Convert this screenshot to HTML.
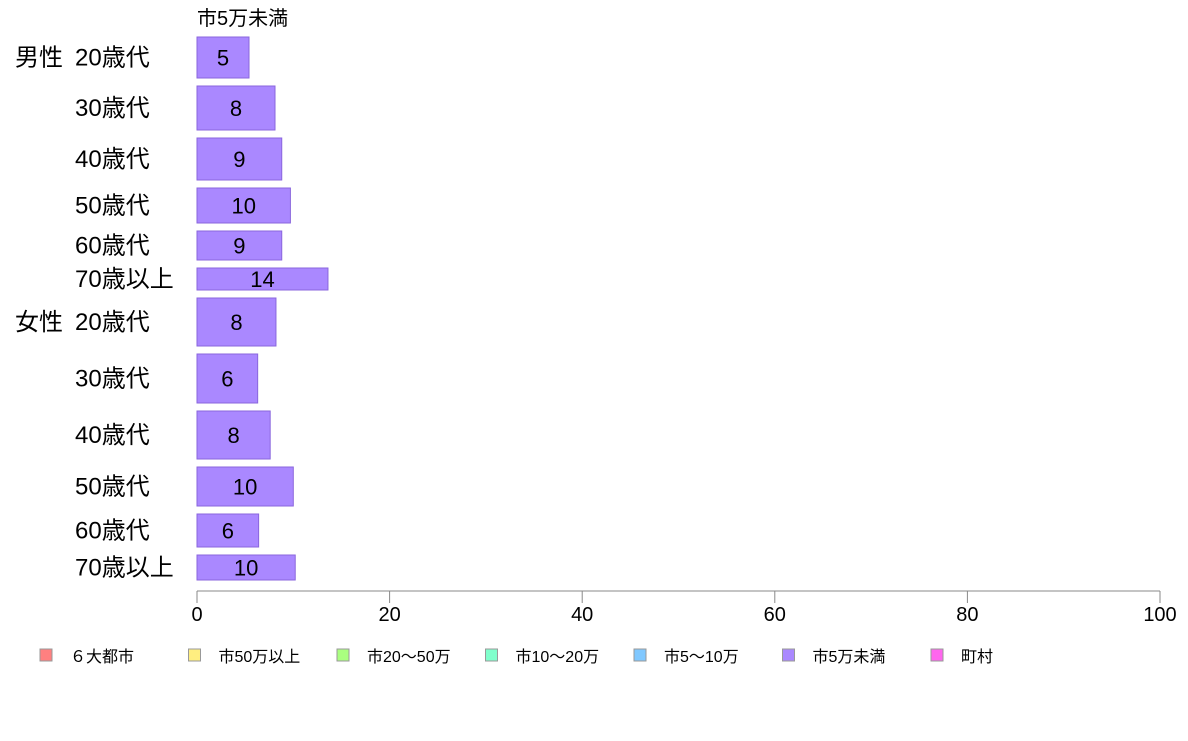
<!DOCTYPE html>
<html><head><meta charset="utf-8"><style>
body{margin:0;background:#fff;font-family:"Liberation Sans","Noto Sans CJK JP",sans-serif;}
svg text{font-family:"Liberation Sans","Noto Sans CJK JP",sans-serif;}
</style></head><body>
<svg id="chart" width="1188" height="736"></svg>
<script>
const groups=["男性","","","","","","女性","","","","",""];
const ages=["20歳代","30歳代","40歳代","50歳代","60歳代","70歳以上","20歳代","30歳代","40歳代","50歳代","60歳代","70歳以上"];
const values=[5.4,8.1,8.8,9.7,8.8,13.6,8.2,6.3,7.6,10.0,6.4,10.2];
const labels=["5","8","9","10","9","14","8","6","8","10","6","10"];
const weights=[41,44,42,35,29,22,48,49,48,39,33,25];
const ticks=[0,20,40,60,80,100];
const legendNames=["６大都市","市50万以上","市20〜50万","市10〜20万","市5〜10万","市5万未満","町村"];
const legendColors=["#ff8080","#ffee80","#aaff80","#80ffcc","#80c8ff","#aa88ff","#ff66ee"];
const NS="http://www.w3.org/2000/svg";
const svg=document.getElementById('chart');
const x0=197,x1=1160,yTop=37,yBot=580;
const xs=v=>x0+(x1-x0)*v/100;
function mk(t,a,txt){const e=document.createElementNS(NS,t);for(const k in a)e.setAttribute(k,a[k]);if(txt!=null)e.textContent=txt;svg.appendChild(e);return e;}
const gap=8;
const totalW=weights.reduce((a,b)=>a+b,0);
const avail=yBot-yTop-gap*(weights.length-1);
let y=yTop;
const title=mk('text',{x:197,y:25,'font-size':20,fill:'#000'},'市5万未満');


values.forEach((v,i)=>{
  const h=avail*weights[i]/totalW;
  const r=mk('rect',{x:x0,y:y,width:xs(v)-x0,height:h,fill:'#aa88ff',stroke:'#8a66dd','stroke-width':1});
  
  
  const cy=y+h/2+8;
  const vl=mk('text',{x:(x0+xs(v))/2,y:cy,'font-size':22,'text-anchor':'middle',fill:'#000'},labels[i]);
  
  
  const al=mk('text',{x:75,y:cy,'font-size':24,fill:'#000'},ages[i]);
  
  
  if(groups[i]){
    const gl=mk('text',{x:15,y:cy,'font-size':24,fill:'#000'},groups[i]);
    
    
  }
  y+=h+gap;
});
const ax=mk('line',{x1:x0,x2:x1,y1:591,y2:591,stroke:'#888','stroke-width':1});


ticks.forEach(t=>{
  const tl=mk('line',{x1:xs(t),x2:xs(t),y1:591,y2:603,stroke:'#888'});
  
  
  const tt=mk('text',{x:xs(t),y:621,'font-size':20,'text-anchor':'middle',fill:'#000'},String(t));
  
  
});
legendNames.forEach((n,i)=>{
  const lx=40+i*148.5;
  const sw=mk('rect',{x:lx,y:649,width:12,height:12,fill:legendColors[i],stroke:'#999'});
  
  
  const lt=mk('text',{x:lx+30,y:662,'font-size':16,fill:'#000'},n);
  
  
});
</script>
</body></html>
